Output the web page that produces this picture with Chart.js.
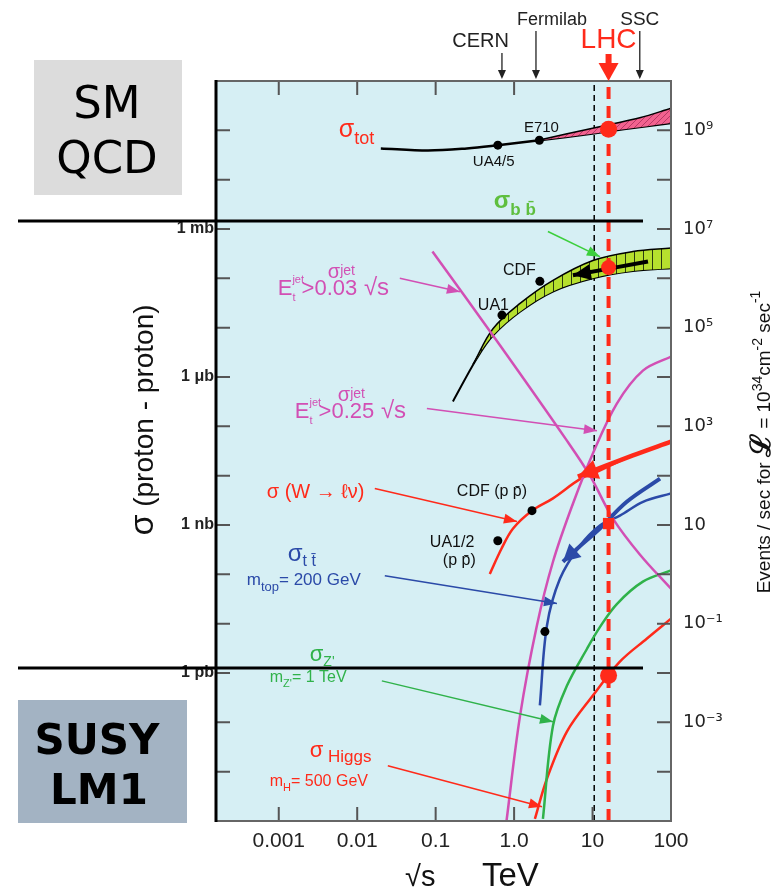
<!DOCTYPE html>
<html>
<head>
<meta charset="utf-8">
<title>Proton-proton cross sections</title>
<script src="https://cdn.jsdelivr.net/npm/chart.js@4.4.1/dist/chart.umd.min.js"></script>
<style>
  html, body { margin: 0; padding: 0; background: #fff; }
  #wrap { width: 782px; height: 891px; }
</style>
</head>
<body>
<div id="wrap"><canvas id="xsecChart" width="782" height="891"></canvas></div>
<script>
// x = sqrt(s) in TeV, y = events/sec at L = 1e34 cm^-2 s^-1  (1 mb <-> 1e7)
const totX = [0.02, 0.08, 0.25, 0.62, 2.1];
const totY = [4.3e8, 3.9e8, 4.3e8, 5.0e8, 6.3e8];
const totBandX = [2.1, 10, 16, 40, 100];
const totBandHi = [6.4e8, 1.1e9, 1.3e9, 1.8e9, 2.8e9];
const totBandLo = [6.2e8, 8.5e8, 9.5e8, 1.15e9, 1.4e9];

const bbLoX = [0.166, 0.336, 0.537, 1.19, 3.13, 10.1, 32.7, 100];
const bbLo = [3.2e3, 2.4e4, 6.9e4, 2.1e5, 5.4e5, 1.0e6, 1.4e6, 1.6e6];
const bbHiX = [0.3, 0.537, 1.19, 3.13, 10.1, 32.7, 100];
const bbHi = [1.8e4, 9.5e4, 3.1e5, 9.1e5, 2.3e6, 3.5e6, 4.1e6];

const jet03X = [0.091, 0.66, 4.71, 9.27, 18.2, 40.3, 100];
const jet03Y = [3.5e6, 4.4e4, 513, 100, 13.5, 2.5, 0.51];
const jet25X = [0.80, 1.19, 1.95, 3.13, 5.62, 10.1, 20.4, 43.8, 100];
const jet25Y = [1.0e-5, 1.35e-3, 0.091, 1.8, 27, 282, 2900, 1.35e4, 2.6e4];

const wX = [0.49, 0.69, 0.97, 1.69, 3.13, 6.9, 11.4, 32.7, 100];
const wY = [1.02, 3.3, 8.5, 19.5, 34.7, 85, 120, 257, 490];
const ttX = [2.13, 2.62, 3.84, 6.9, 12.4, 22.3, 44, 100];
const ttY = [2.2e-3, 0.091, 0.81, 3.8, 9.8, 15.5, 29.5, 43.6];
const zpX = [2.33, 3.13, 4.71, 8.5, 12.4, 20.4, 43.8, 100];
const zpY = [1.1e-5, 8.5e-4, 5.5e-3, 0.031, 0.085, 0.25, 0.71, 1.2];
const higgsX = [1.84, 2.62, 4.71, 10.1, 22.3, 49.4, 100];
const higgsY = [1.1e-5, 7.2e-5, 6.5e-4, 3.5e-3, 0.017, 0.05, 0.126];

// big arrows pointing back from the LHC energy
const wArrowX = [100, 32.7, 6.5];
const wArrowY = [490, 257, 96];
const bbArrowX = [50.9, 5.62];
const bbArrowY = [2.2e6, 1.15e6];
const ttArrowX = [72.5, 27.3, 12.4, 6.35, 4.19];
const ttArrowY = [87, 29.5, 8.5, 3.3, 1.8];

// measured points and LHC predictions
const dataX = [0.62, 2.1, 0.70, 2.13, 1.69, 0.62, 2.47];
const dataY = [5.0e8, 6.3e8, 1.8e5, 8.7e5, 19.5, 4.8, 0.069];
const lhcX = [16, 16, 16, 16];
const lhcY = [1.05e9, 1.66e6, 10.7, 8.9e-3];

const lhcEnergy = 16;
const tevatronLine = 10.5;
const machineX = [0.7, 1.9, 16, 40];
const machineNames = ['CERN', 'Fermilab', 'LHC', 'SSC'];

const xTickValues = [0.001, 0.01, 0.1, 1, 10, 100];
const xTickLabels = ['0.001', '0.01', '0.1', '1.0', '10', '100'];
const leftTickValues = [1e-2, 1e1, 1e4, 1e7];
const leftTickLabels = ['1 pb', '1 nb', '1 μb', '1 mb'];
const rightTickValues = [1e-3, 1e-1, 1e1, 1e3, 1e5, 1e7, 1e9];
const rightTickLabels = ['10⁻³', '10⁻¹', '10', '10³', '10⁵', '10⁷', '10⁹'];

const RED = '#ff2a1a', MAG = '#d24fb4', BLUE = '#2b4aa8', GREEN = '#2fb24a', LGREEN = '#5fbf3f';

const pts = (xs, ys) => xs.map((x, i) => ({ x: x, y: ys[i] }));
const lbl = (vals, labs) => v => {
  const i = vals.findIndex(t => Math.abs(Math.log10(t) - Math.log10(v)) < 1e-6);
  return i < 0 ? '' : labs[i];
};

function hatch(bg, line, step, diag) {
  const c = document.createElement('canvas');
  c.width = c.height = step;
  const g = c.getContext('2d');
  g.fillStyle = bg;
  g.fillRect(0, 0, step, step);
  g.strokeStyle = line;
  g.lineWidth = 1;
  g.beginPath();
  if (diag) { g.moveTo(0, step); g.lineTo(step, 0); }
  else { g.moveTo(step / 2, 0); g.lineTo(step / 2, step); }
  g.stroke();
  return g.createPattern(c, 'repeat');
}

const curve = (label, xs, ys, color, width, order) => ({
  label, data: pts(xs, ys), borderColor: color, borderWidth: width,
  pointRadius: 0, fill: false, tension: 0.35, order
});

const datasets = [
  { label: 'LHC', data: pts(lhcX, lhcY), showLine: false, backgroundColor: RED, borderWidth: 0,
    pointRadius: [8.5, 7.5, 8, 8.5], pointStyle: ['circle', 'circle', 'rect', 'circle'], order: 0 },
  { label: 'data', data: pts(dataX, dataY), showLine: false, backgroundColor: '#000', borderWidth: 0,
    pointRadius: 4.5, order: 1 },
  { label: 'LHC energy', data: pts([lhcEnergy, lhcEnergy], [1e-5, 1e10]), borderColor: RED, borderWidth: 4,
    borderDash: [12, 7], pointRadius: 0, order: 2 },
  Object.assign(curve('W arrow', wArrowX, wArrowY, RED, 4.5, 3), { arrowHead: [20, 10] }),
  Object.assign(curve('bb arrow', bbArrowX, bbArrowY, '#000', 4, 3), { arrowHead: [18, 8] }),
  Object.assign(curve('tt arrow', ttArrowX, ttArrowY, BLUE, 4, 3), { arrowHead: [17, 9] }),
  curve('sigma tot', totX, totY, '#000', 2.5, 4),
  curve('jet 0.03', jet03X, jet03Y, MAG, 2.5, 4),
  curve('jet 0.25', jet25X, jet25Y, MAG, 2.5, 4),
  curve('W', wX, wY, RED, 2.5, 4),
  curve('ttbar', ttX, ttY, BLUE, 2.5, 4),
  curve("Z'", zpX, zpY, GREEN, 2.5, 4),
  curve('Higgs', higgsX, higgsY, RED, 2.5, 4),
  Object.assign(curve('tot band hi', totBandX, totBandHi, '#000', 1.5, 5),
    { fill: '+1', backgroundColor: hatch('#f2628f', '#b83a66', 6, true) }),
  curve('tot band lo', totBandX, totBandLo, '#000', 2, 5),
  Object.assign(curve('bb hi', bbHiX, bbHi, '#000', 1.5, 5),
    { fill: '+1', backgroundColor: hatch('#b6e02e', '#2a3a10', 9, false) }),
  curve('bb lo', bbLoX, bbLo, '#000', 2, 5),
  { label: '10 TeV', data: pts([tevatronLine, tevatronLine], [1e-5, 1e10]), borderColor: '#000', borderWidth: 1.5,
    borderDash: [6, 4], pointRadius: 0, order: 6 }
];

// text labels anchored at (log10 sqrt s, log10 rate)
const notes = [
  { at: [-2.235, 8.86], c: RED, parts: [{ t: 'σ', s: 25 }, { t: 'tot', s: 18, dy: 7 }] },
  { at: [0.125, 8.96], c: '#111', parts: [{ t: 'E710', s: 15 }] },
  { at: [-0.526, 8.27], c: '#111', parts: [{ t: 'UA4/5', s: 15 }] },
  { at: [-0.258, 7.42], c: LGREEN, parts: [{ t: 'σ', s: 24, b: 1 }, { t: 'b b̄', s: 17, dy: 7, b: 1 }] },
  { at: [-2.375, 6.0], c: MAG, parts: [{ t: 'σ', s: 20 }, { t: 'jet', s: 14, dy: -3 }] },
  { at: [-3.013, 5.67], c: MAG, parts: [{ t: 'E', s: 22 }, { t: 'jet', s: 11, dy: -12, back: 1 }, { t: 't', s: 11, dy: 6 },
    { t: ' >0.03', s: 22 }, { t: ' √s', s: 24 }] },
  { at: [-2.247, 3.52], c: MAG, parts: [{ t: 'σ', s: 20 }, { t: 'jet', s: 14, dy: -3 }] },
  { at: [-2.796, 3.16], c: MAG, parts: [{ t: 'E', s: 22 }, { t: 'jet', s: 11, dy: -12, back: 1 }, { t: 't', s: 11, dy: 6 },
    { t: ' >0.25', s: 22 }, { t: ' √s', s: 24 }] },
  { at: [-0.143, 6.06], c: '#111', parts: [{ t: 'CDF', s: 16 }] },
  { at: [-0.462, 5.35], c: '#111', parts: [{ t: 'UA1', s: 16 }] },
  { at: [-3.153, 1.54], c: RED, parts: [{ t: 'σ (W → ℓν)', s: 20 }] },
  { at: [-0.730, 1.58], c: '#111', parts: [{ t: 'CDF (p p̄)', s: 16 }] },
  { at: [-1.074, 0.56], c: '#111', parts: [{ t: 'UA1/2', s: 16 }] },
  { at: [-0.908, 0.18], c: '#111', parts: [{ t: '(p p̄)', s: 16 }] },
  { at: [-2.885, 0.28], c: BLUE, parts: [{ t: 'σ', s: 24 }, { t: 't t̄', s: 16, dy: 5 }] },
  { at: [-3.408, -0.21], c: BLUE, parts: [{ t: 'm', s: 17 }, { t: 'top', s: 13, dy: 6 }, { t: '= 200 GeV', s: 17 }] },
  { at: [-2.605, -1.75], c: GREEN, parts: [{ t: 'σ', s: 22 }, { t: "Z'", s: 14, dy: 5 }] },
  { at: [-3.115, -2.18], c: GREEN, parts: [{ t: 'm', s: 16 }, { t: "Z'", s: 11, dy: 5 }, { t: '= 1 TeV', s: 16 }] },
  { at: [-2.605, -3.70], c: RED, parts: [{ t: 'σ', s: 22 }, { t: ' Higgs', s: 17, dy: 5 }] },
  { at: [-3.115, -4.29], c: RED, parts: [{ t: 'm', s: 16 }, { t: 'H', s: 11, dy: 5 }, { t: '= 500 GeV', s: 16 }] }
];

const pointers = [
  { from: [0.431, 6.95], to: [1.094, 6.44], c: '#3ccf3c' },
  { from: [-1.457, 6.0], to: [-0.691, 5.73], c: MAG },
  { from: [-1.112, 3.36], to: [1.056, 2.91], c: MAG },
  { from: [-1.776, 1.74], to: [0.036, 1.07], c: RED },
  { from: [-1.648, -0.03], to: [0.546, -0.59], c: BLUE },
  { from: [-1.686, -2.16], to: [0.495, -2.99], c: GREEN },
  { from: [-1.610, -3.88], to: [0.355, -4.71], c: RED }
];

function head(ctx, qx, qy, px, py, len, hw, color) {
  const a = Math.atan2(py - qy, px - qx);
  const bx = px - len * Math.cos(a), by = py - len * Math.sin(a);
  ctx.fillStyle = color;
  ctx.beginPath();
  ctx.moveTo(px, py);
  ctx.lineTo(bx + hw * Math.sin(a), by - hw * Math.cos(a));
  ctx.lineTo(bx - hw * Math.sin(a), by + hw * Math.cos(a));
  ctx.closePath();
  ctx.fill();
}

function setFont(ctx, p) {
  ctx.font = (p.b ? 'bold ' : '') + p.s + 'px ' + (p.f || '"Liberation Sans", Arial, sans-serif');
}

function runWidth(ctx, parts) {
  let w = 0;
  parts.forEach(p => { setFont(ctx, p); if (!p.back) w += ctx.measureText(p.t).width; });
  return w;
}

function drawRuns(ctx, x, y, parts, color) {
  parts.forEach(p => {
    setFont(ctx, p);
    ctx.fillStyle = p.c || color;
    ctx.fillText(p.t, x, y + (p.dy || 0));
    if (!p.back) x += ctx.measureText(p.t).width;
  });
}

const decor = {
  id: 'decor',
  beforeDraw(chart) {
    const { ctx, chartArea: a } = chart;
    ctx.save();
    ctx.fillStyle = '#ffffff';
    ctx.fillRect(0, 0, chart.width, chart.height);
    ctx.fillStyle = '#d6eff4';
    ctx.fillRect(a.left, a.top, a.right - a.left, a.bottom - a.top);
    ctx.restore();
  },
  afterDatasetsDraw(chart) {
    const { ctx, chartArea: a } = chart;
    const xs = chart.scales.x, ys = chart.scales.y;
    const P = (lx, ly) => [xs.getPixelForValue(Math.pow(10, lx)), ys.getPixelForValue(Math.pow(10, ly))];
    ctx.save();

    // arrow heads on the big arrows
    chart.data.datasets.forEach((ds, i) => {
      if (!ds.arrowHead) return;
      const el = chart.getDatasetMeta(i).data;
      const p = el[el.length - 1], q = el[el.length - 2];
      head(ctx, q.x, q.y, p.x, p.y, ds.arrowHead[0], ds.arrowHead[1], ds.borderColor);
    });

    // thin label pointers
    pointers.forEach(pt => {
      const [x0, y0] = P(pt.from[0], pt.from[1]);
      const [x1, y1] = P(pt.to[0], pt.to[1]);
      ctx.strokeStyle = pt.c;
      ctx.lineWidth = 1.5;
      ctx.beginPath();
      ctx.moveTo(x0, y0);
      ctx.lineTo(x1, y1);
      ctx.stroke();
      head(ctx, x0, y0, x1, y1, 13, 5, pt.c);
    });

    ctx.textBaseline = 'alphabetic';
    ctx.textAlign = 'left';
    notes.forEach(n => {
      const [x, y] = P(n.at[0], n.at[1]);
      drawRuns(ctx, x, y, n.parts, n.c);
    });

    // inward tick marks
    ctx.strokeStyle = '#555';
    ctx.lineWidth = 2;
    ctx.beginPath();
    for (let e = -4; e <= 9; e++) {
      const y = ys.getPixelForValue(Math.pow(10, e));
      ctx.moveTo(a.left, y); ctx.lineTo(a.left + 14, y);
      ctx.moveTo(a.right - 14, y); ctx.lineTo(a.right, y);
    }
    xTickValues.slice(0, 5).forEach((v, i) => {
      const x = xs.getPixelForValue(v);
      if (i < 4) { ctx.moveTo(x, a.top); ctx.lineTo(x, a.top + 14); }
      ctx.moveTo(x, a.bottom); ctx.lineTo(x, a.bottom - 14);
    });
    ctx.stroke();

    // frame
    ctx.strokeStyle = '#666';
    ctx.lineWidth = 2;
    ctx.strokeRect(a.left, a.top, a.right - a.left, a.bottom - a.top);
    ctx.strokeStyle = '#000';
    ctx.lineWidth = 3;
    ctx.beginPath();
    ctx.moveTo(a.left, a.top - 1);
    ctx.lineTo(a.left, a.bottom + 1);
    ctx.stroke();
    ctx.restore();
  },
  afterDraw(chart) {
    const { ctx, chartArea: a } = chart;
    const xs = chart.scales.x;
    ctx.save();
    ctx.textBaseline = 'alphabetic';

    // machines above the frame
    const style = {
      CERN: { dx: 7, y: 47, s: 20, align: 'right', c: '#222', top: 53 },
      Fermilab: { dx: 16, y: 25, s: 18, align: 'center', c: '#222', top: 31 },
      LHC: { dx: 0, y: 48, s: 28, align: 'center', c: RED, top: 54 },
      SSC: { dx: 0, y: 25, s: 19, align: 'center', c: '#222', top: 31 }
    };
    machineNames.forEach((name, i) => {
      const st = style[name];
      const x = xs.getPixelForValue(machineX[i]);
      ctx.font = st.s + 'px "Liberation Sans", Arial, sans-serif';
      ctx.fillStyle = st.c;
      ctx.textAlign = st.align;
      ctx.fillText(name, x + st.dx, st.y);
      if (name === 'LHC') {
        ctx.strokeStyle = RED; ctx.lineWidth = 6;
        ctx.beginPath(); ctx.moveTo(x, st.top); ctx.lineTo(x, 66); ctx.stroke();
        head(ctx, x, 60, x, a.top, 18, 10, RED);
      } else {
        ctx.strokeStyle = '#222'; ctx.lineWidth = 1.3;
        ctx.beginPath(); ctx.moveTo(x, st.top); ctx.lineTo(x, a.top - 4); ctx.stroke();
        head(ctx, x, st.top, x, a.top - 2, 9, 4, '#222');
      }
    });

    // axis titles
    ctx.textAlign = 'left';
    drawRuns(ctx, 405, 886, [{ t: '√s', s: 29 }], '#111');
    drawRuns(ctx, 482, 886, [{ t: 'TeV', s: 33 }], '#111');

    const nf = '"Liberation Sans Narrow", "Liberation Sans", sans-serif';
    const leftTitle = [{ t: 'σ', s: 34, f: nf }, { t: ' (proton - proton)', s: 28, f: nf }];
    ctx.save();
    ctx.translate(153, 420);
    ctx.rotate(-Math.PI / 2);
    drawRuns(ctx, -runWidth(ctx, leftTitle) / 2, 0, leftTitle, '#111');
    ctx.restore();

    const rightTitle = [
      { t: 'Events / sec for ', s: 19, f: nf }, { t: 'ℒ', s: 28, b: 1, f: '"DejaVu Serif", serif' },
      { t: ' = 10', s: 19, f: nf }, { t: '34', s: 14, dy: -8, f: nf }, { t: 'cm', s: 19, f: nf },
      { t: '-2', s: 14, dy: -8, f: nf }, { t: ' sec', s: 19, f: nf }, { t: '-1', s: 14, dy: -10, f: nf }
    ];
    ctx.save();
    ctx.translate(770, 442);
    ctx.rotate(-Math.PI / 2);
    drawRuns(ctx, -runWidth(ctx, rightTitle) / 2, 0, rightTitle, '#111');
    ctx.restore();

    // slide overlays: separators and boxes
    ctx.strokeStyle = '#000';
    ctx.lineWidth = 3;
    ctx.beginPath();
    ctx.moveTo(18, 221); ctx.lineTo(643, 221);
    ctx.moveTo(18, 668); ctx.lineTo(643, 668);
    ctx.stroke();

    ctx.fillStyle = '#dcdcdc';
    ctx.fillRect(34, 60, 148, 135);
    ctx.fillStyle = '#a3b3c3';
    ctx.fillRect(18, 700, 169, 123);
    ctx.fillStyle = '#000';
    ctx.textAlign = 'center';
    ctx.font = '45px "DejaVu Sans", sans-serif';
    ctx.fillText('SM', 107, 118);
    ctx.fillText('QCD', 107, 173);
    ctx.font = 'bold 42px "DejaVu Sans", sans-serif';
    ctx.fillText('SUSY', 97, 754);
    ctx.fillText('LM1', 99, 804);
    ctx.restore();
  }
};

const axisFont = { family: '"Liberation Sans", Arial, sans-serif' };

new Chart(document.getElementById('xsecChart').getContext('2d'), {
  type: 'scatter',
  data: { datasets: datasets.map(d => Object.assign({ showLine: d.showLine !== false }, d)) },
  options: {
    responsive: false,
    animation: false,
    events: [],
    layout: { padding: { top: 81, left: 0, right: 0, bottom: 0 } },
    plugins: { legend: { display: false }, tooltip: { enabled: false } },
    scales: {
      x: {
        type: 'logarithmic', min: Math.pow(10, -3.8), max: 100,
        afterBuildTicks: s => { s.ticks = xTickValues.map(v => ({ value: v })); },
        afterFit: s => { s.height = 70; },
        grid: { display: false, drawTicks: false }, border: { display: false },
        ticks: { callback: lbl(xTickValues, xTickLabels), autoSkip: false, maxRotation: 0, padding: 8,
          color: '#222', font: Object.assign({ size: 21 }, axisFont) }
      },
      y: {
        type: 'logarithmic', position: 'left', min: 1e-5, max: 1e10,
        afterBuildTicks: s => { s.ticks = leftTickValues.map(v => ({ value: v })); },
        afterFit: s => { s.width = 216; },
        grid: { display: false, drawTicks: false }, border: { display: false },
        ticks: { callback: lbl(leftTickValues, leftTickLabels), autoSkip: false, padding: 2,
          color: '#222', font: Object.assign({ size: 16, weight: 'bold' }, axisFont) }
      },
      y2: {
        type: 'logarithmic', position: 'right', min: 1e-5, max: 1e10,
        afterBuildTicks: s => { s.ticks = rightTickValues.map(v => ({ value: v })); },
        afterFit: s => { s.width = 111; },
        grid: { display: false, drawTicks: false }, border: { display: false },
        ticks: { callback: lbl(rightTickValues, rightTickLabels), autoSkip: false, padding: 12,
          color: '#222', font: { size: 18, family: '"DejaVu Sans", sans-serif' } }
      }
    }
  },
  plugins: [decor]
});
</script>
</body>
</html>
